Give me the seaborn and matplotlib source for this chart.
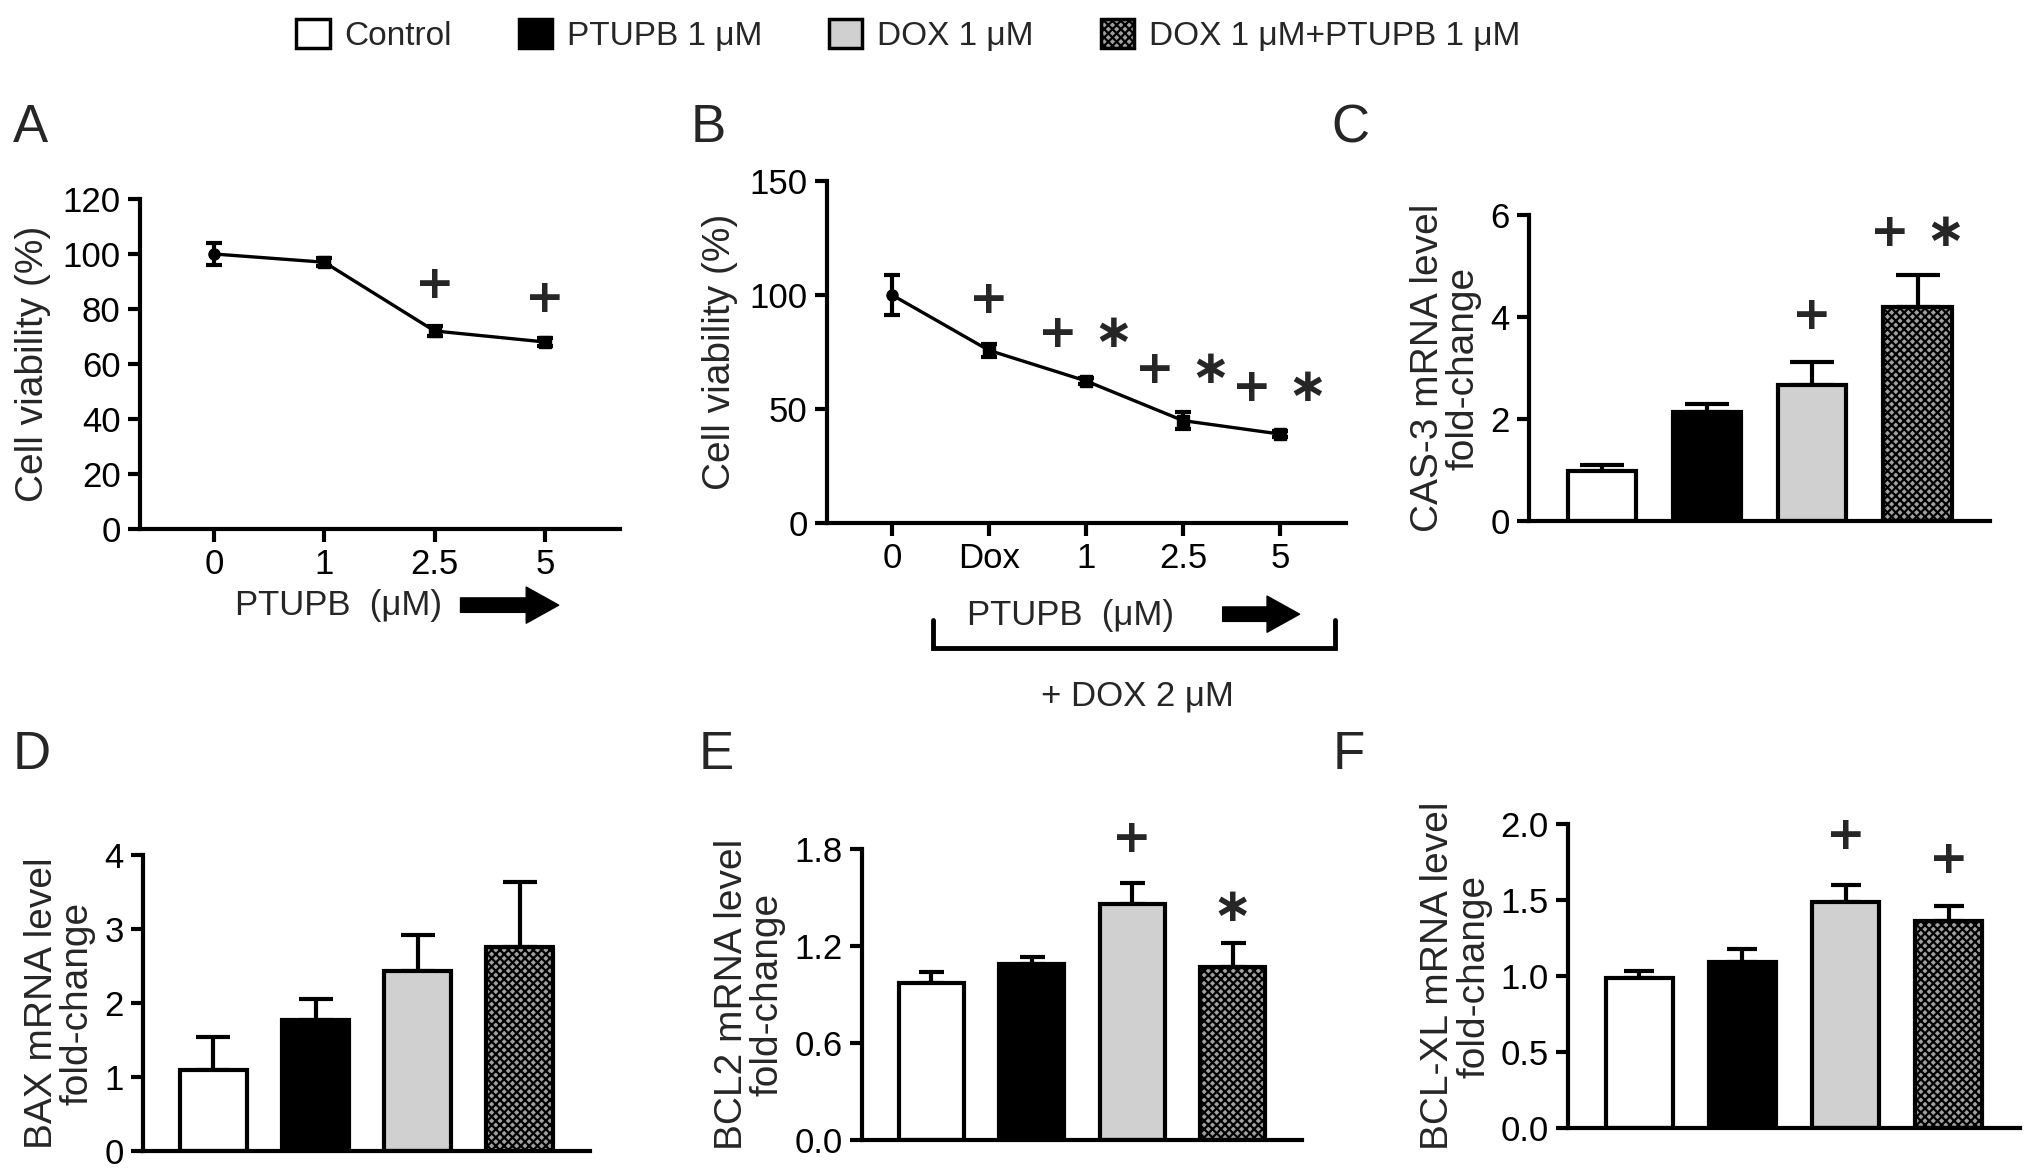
import numpy as np
import matplotlib
matplotlib.use('Agg')
import matplotlib.pyplot as plt
from matplotlib.patches import Patch
import seaborn as sns

# groups shown in the legend and the bar panels
groups = ['Control', 'PTUPB 1 μM', 'DOX 1 μM', 'DOX 1 μM+PTUPB 1 μM']
bar_colors = ['#ffffff', '#000000', '#d0d0d0', '#a0a0a0']
bar_hatch = [None, None, None, 'xxxx']

# A: viability vs PTUPB dose
a_doses = ['0', '1', '2.5', '5']
a_viab = [100, 97, 72, 68]
a_err = [4, 1.5, 1.8, 1.5]
a_marks = ['', '', '+', '+']
a_mark_y = [0, 0, 88.4, 83.5]

# B: viability with DOX 2 uM + PTUPB
b_doses = ['0', 'Dox', '1', '2.5', '5']
b_viab = [100, 75.7, 62.3, 44.9, 39]
b_err = [8.8, 3, 1.5, 3.8, 1.5]
b_marks = ['', '+', '+ ∗', '+ ∗', '+ ∗']
b_mark_y = [0, 97.5, 82.8, 66.8, 59.1]

# C-F: mRNA fold change
cas3 = [0.97, 2.13, 2.67, 4.2]
cas3_err = [0.12, 0.17, 0.44, 0.62]
cas3_marks = ['', '', '+', '+ ∗']
cas3_mark_y = [0, 0, 4.0, 5.64]

bax = [1.1, 1.77, 2.43, 2.75]
bax_err = [0.44, 0.29, 0.49, 0.88]

bcl2 = [0.97, 1.09, 1.46, 1.07]
bcl2_err = [0.07, 0.04, 0.13, 0.15]
bcl2_marks = ['', '', '+', '∗']
bcl2_mark_y = [0, 0, 1.86, 1.43]

bclxl = [0.99, 1.09, 1.49, 1.36]
bclxl_err = [0.04, 0.09, 0.11, 0.1]
bclxl_marks = ['', '', '+', '+']
bclxl_mark_y = [0, 0, 1.92, 1.76]

sns.set_theme(style='ticks')
plt.rcParams['font.family'] = ['Liberation Sans', 'DejaVu Sans']
plt.rcParams['hatch.linewidth'] = 1.6
plt.rcParams['axes.linewidth'] = 3

TICK_FS = 25
LABEL_FS = 28
fig = plt.figure(figsize=(20.32, 11.76), dpi=100)


def style_axis(ax):
    sns.despine(ax=ax)
    ax.tick_params(width=3, length=9, labelsize=TICK_FS, colors='black', pad=5)
    for s in ax.spines.values():
        s.set_color('black')


def add_marks(ax, marks, ys):
    for xi, (m, y) in enumerate(zip(marks, ys)):
        if m:
            ax.text(xi, y, m, ha='center', va='center', fontsize=34,
                    fontweight='bold', family=['DejaVu Sans'], clip_on=False)


def line_panel(ax, labels, vals, errs, ymax, ystep):
    x = np.arange(len(labels))
    sns.lineplot(x=x, y=vals, color='black', linewidth=2.4, ax=ax)
    for xi, v, e in zip(x, vals, errs):
        ax.errorbar(xi, v, yerr=e, fmt='o' if xi == 0 else 's', color='black',
                    ms=8, elinewidth=3, capsize=5.5, capthick=3)
    ax.set_xticks(x, labels)
    ax.set_xlim(-0.67, len(labels) - 1 + 0.68)
    ax.set_ylim(0, ymax)
    ax.set_yticks(np.arange(0, ymax + 1, ystep))
    ax.set_ylabel('Cell viability (%)', fontsize=LABEL_FS, labelpad=8)
    style_axis(ax)


def bar_panel(ax, vals, errs, ymax, ticks, labels, ylabel, capsize):
    sns.barplot(x=groups, y=vals, hue=groups, palette=bar_colors, legend=False,
                errorbar=None, width=0.65, edgecolor='black', linewidth=3,
                saturation=1, ax=ax)
    for p, h in zip(ax.patches, bar_hatch):
        if h:
            p.set_hatch(h)
    ax.errorbar(np.arange(len(vals)), vals, yerr=[np.zeros(len(vals)), errs],
                fmt='none', ecolor='black', elinewidth=3, capsize=capsize,
                capthick=3, zorder=0)
    ax.set_xticks([])
    ax.set_xlabel('')
    ax.set_xlim(-0.69, 3.69)
    ax.set_ylim(0, ymax)
    ax.set_yticks(ticks, labels)
    ax.set_ylabel(ylabel, fontsize=LABEL_FS, linespacing=1.0, labelpad=6)
    style_axis(ax)


# A
axA = fig.add_axes([0.0689, 0.5502, 0.2362, 0.2806])
line_panel(axA, a_doses, a_viab, a_err, 120, 20)
add_marks(axA, a_marks, a_mark_y)
axA.text(1.13, -28, 'PTUPB  (μM)', ha='center', va='center', fontsize=TICK_FS, clip_on=False)
axA.annotate('', xy=(3.15, -27.7), xytext=(2.21, -27.7), annotation_clip=False,
             arrowprops=dict(arrowstyle='simple,head_length=0.9,head_width=1.0,tail_width=0.4',
                             color='black', mutation_scale=26))

# B
axB = fig.add_axes([0.4070, 0.5553, 0.2554, 0.2908])
line_panel(axB, b_doses, b_viab, b_err, 150, 50)
add_marks(axB, b_marks, b_mark_y)
axB.text(1.84, -40.6, 'PTUPB  (μM)', ha='center', va='center', fontsize=TICK_FS, clip_on=False)
axB.annotate('', xy=(4.23, -40), xytext=(3.38, -40), annotation_clip=False,
             arrowprops=dict(arrowstyle='simple,head_length=0.9,head_width=1.0,tail_width=0.4',
                             color='black', mutation_scale=26))
axB.plot([0.42, 0.42, 4.57, 4.57], [-42.4, -54.9, -54.9, -42.4], color='black',
         lw=3.5, clip_on=False, solid_joinstyle='miter')
axB.text(2.53, -76, '+ DOX 2 μM', ha='center', va='center', fontsize=TICK_FS, clip_on=False)

# C
axC = fig.add_axes([0.7525, 0.5570, 0.2269, 0.2602])
bar_panel(axC, cas3, cas3_err, 6, [0, 2, 4, 6], ['0', '2', '4', '6'],
          'CAS-3 mRNA level\nfold-change', 16)
add_marks(axC, cas3_marks, cas3_mark_y)

# D
axD = fig.add_axes([0.0704, 0.0213, 0.2200, 0.2517])
bar_panel(axD, bax, bax_err, 4, [0, 1, 2, 3, 4], ['0', '1', '2', '3', '4'],
          'BAX mRNA level\nfold-change', 12)

# E
axE = fig.add_axes([0.4242, 0.0306, 0.2165, 0.2474])
bar_panel(axE, bcl2, bcl2_err, 1.8, [0, 0.6, 1.2, 1.8], ['0.0', '0.6', '1.2', '1.8'],
          'BCL2 mRNA level\nfold-change', 9)
add_marks(axE, bcl2_marks, bcl2_mark_y)

# F
axF = fig.add_axes([0.7717, 0.0408, 0.2224, 0.2585])
bar_panel(axF, bclxl, bclxl_err, 2.0, [0, 0.5, 1.0, 1.5, 2.0],
          ['0.0', '0.5', '1.0', '1.5', '2.0'], 'BCL-XL mRNA level\nfold-change', 11)
add_marks(axF, bclxl_marks, bclxl_mark_y)

# panel letters
for lbl, x, y in [('A', 0.0064, 0.912), ('B', 0.340, 0.912), ('C', 0.655, 0.912),
                  ('D', 0.0064, 0.379), ('E', 0.344, 0.379), ('F', 0.656, 0.379)]:
    fig.text(x, y, lbl, fontsize=38, ha='left', va='top')

# legend
handles = [Patch(facecolor=c, edgecolor='black', linewidth=2.5, hatch=h)
           for c, h in zip(bar_colors, bar_hatch)]
fig.legend(handles, groups, ncol=4, loc='center', bbox_to_anchor=(0.447, 0.970),
           frameon=False, fontsize=24, handlelength=1.0, handleheight=1.0,
           handletextpad=0.45, columnspacing=2.0)

fig.savefig('out.png', dpi=100)
